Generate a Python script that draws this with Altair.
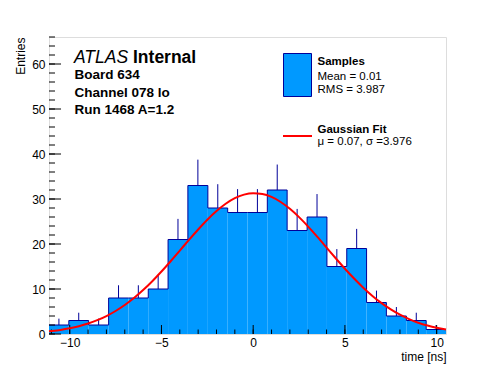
import altair as alt
import pandas as pd

FONT = "Liberation Sans"

# Histogram (20 bins)
bin_edges = [-11.13, -10.05, -8.97, -7.88, -6.80, -5.72, -4.64, -3.56, -2.47, -1.39,
             -0.31, 0.77, 1.85, 2.94, 4.02, 5.10, 6.18, 7.26, 8.35, 9.43, 10.51]
counts = [2, 3, 2, 8, 8, 10, 21, 33, 28, 27, 27, 32, 23, 26, 15, 19, 7, 4, 3, 1]

# Gaussian fit curve
fit_x = [-11.13, -11, -10.5, -10, -9.5, -9, -8.5, -8, -7.5, -7, -6.5, -6, -5.5, -5, -4.5, -4,
         -3.5, -3, -2.5, -2, -1.5, -1, -0.5, 0, 0.5, 1, 1.5, 2, 2.5, 3, 3.5, 4, 4.5, 5,
         5.5, 6, 6.5, 7, 7.5, 8, 8.5, 9, 9.5, 10, 10.51]
fit_y = [0.59, 0.65, 0.91, 1.27, 1.73, 2.32, 3.07, 3.99, 5.11, 6.44, 7.99, 9.76, 11.73, 13.88,
         16.17, 18.54, 20.92, 23.23, 25.40, 27.33, 28.95, 30.19, 30.98, 31.30, 31.12, 30.46,
         29.34, 27.82, 25.97, 23.86, 21.57, 19.21, 16.83, 14.51, 12.32, 10.29, 8.46, 6.85,
         5.46, 4.28, 3.31, 2.51, 1.88, 1.38, 1.00]

x_major = [-10, -5, 0, 5, 10]
x_minor = list(range(-11, 11))
y_major = [0, 10, 20, 30, 40, 50, 60]
y_minor = list(range(0, 67, 2))

X0, X1 = -11.13, 10.51
W, H = 397, 297
FILL = "#0099ff"
LINE = "#000099"

xs = alt.Scale(domain=[X0, X1], nice=False, zero=False)
ys = alt.Scale(domain=[0, 66], nice=False, zero=True)

hist = pd.DataFrame({
    "lo": bin_edges[:-1],
    "hi": bin_edges[1:],
    "n": counts,
})
hist["c"] = (hist["lo"] + hist["hi"]) / 2
step = pd.DataFrame({"e": bin_edges, "n": counts + [counts[-1]]})
fit = pd.DataFrame({"x": fit_x, "y": fit_y})

xaxis = alt.Axis(values=x_major, ticks=False, tickSize=0, domain=False, grid=False,
                 labelFont=FONT, labelFontSize=12, labelColor="black", labelPadding=3,
                 title="time [ns]", titleFont=FONT, titleFontSize=12, titleFontWeight="normal",
                 titleColor="black", titleX=W, titleY=26, titleAlign="right",
                 titleBaseline="alphabetic")
yaxis = alt.Axis(values=y_major, ticks=False, tickSize=0, domain=False, grid=False,
                 labelFont=FONT, labelFontSize=12, labelColor="black", labelPadding=4,
                 title="Entries", titleFont=FONT, titleFontSize=12, titleFontWeight="normal",
                 titleColor="black", titleAngle=270, titleX=-29, titleY=0,
                 titleAlign="right", titleBaseline="middle")

err = alt.Chart(hist).transform_calculate(
    lo_e="datum.n - sqrt(datum.n)", hi_e="datum.n + sqrt(datum.n)"
).mark_rule(color=LINE, strokeWidth=1).encode(
    x=alt.X("c:Q", scale=xs, axis=xaxis),
    y=alt.Y("lo_e:Q", scale=ys, axis=yaxis),
    y2="hi_e:Q",
)

bars = alt.Chart(hist).mark_rect(fill=FILL, strokeWidth=0).encode(
    x=alt.X("lo:Q", scale=xs),
    x2="hi:Q",
    y=alt.Y("n:Q", scale=ys),
    y2=alt.datum(0),
)

outline = alt.Chart(step).mark_line(color=LINE, strokeWidth=1, interpolate="step-after").encode(
    x=alt.X("e:Q", scale=xs),
    y=alt.Y("n:Q", scale=ys),
)

# tick lengths in data units: x ticks 9px / 4.5px tall, y ticks 12px / 6px long
xt_minor = alt.Chart(pd.DataFrame({"v": x_minor})).mark_rule(color="black").encode(
    x=alt.X("v:Q", scale=xs), y=alt.datum(0, scale=ys), y2=alt.datum(1))
xt_major = alt.Chart(pd.DataFrame({"v": x_major})).mark_rule(color="black").encode(
    x=alt.X("v:Q", scale=xs), y=alt.datum(0, scale=ys), y2=alt.datum(2))
yt_minor = alt.Chart(pd.DataFrame({"v": y_minor})).mark_rule(color="black").encode(
    y=alt.Y("v:Q", scale=ys), x=alt.datum(X0, scale=xs), x2=alt.datum(X0 + 0.327))
yt_major = alt.Chart(pd.DataFrame({"v": y_major})).mark_rule(color="black").encode(
    y=alt.Y("v:Q", scale=ys), x=alt.datum(X0, scale=xs), x2=alt.datum(X0 + 0.655))

curve = alt.Chart(fit).mark_line(color="#ff0000", strokeWidth=2, interpolate="monotone").encode(
    x=alt.X("x:Q", scale=xs),
    y=alt.Y("y:Q", scale=ys),
)


def label(txt, px, py, size=12, weight="normal", style="normal"):
    return alt.Chart(pd.DataFrame({"t": [txt]})).mark_text(
        align="left", baseline="alphabetic", font=FONT, fontSize=size,
        fontWeight=weight, fontStyle=style, color="black",
    ).encode(x=alt.value(px), y=alt.value(py), text="t:N")


one = pd.DataFrame({"a": [0]})
leg_box = alt.Chart(one).mark_rect(fill=FILL, stroke=LINE, strokeWidth=1).encode(
    x=alt.value(234.5), x2=alt.value(262.5), y=alt.value(16.5), y2=alt.value(59.5))
leg_line = alt.Chart(one).mark_rule(color="#ff0000", strokeWidth=2).encode(
    x=alt.value(234), x2=alt.value(263), y=alt.value(99))

texts = [
    label("ATLAS", 25, 25.7, size=17.5, style="italic"),
    label("Internal", 84, 25.7, size=17.5, weight="bold"),
    label("Board 634", 25.5, 42.3, size=13.5, weight="bold"),
    label("Channel 078 lo", 25.5, 59.7, size=13.5, weight="bold"),
    label("Run 1468 A=1.2", 25.5, 77, size=13.5, weight="bold"),
    label("Samples", 268.5, 28, size=11.5, weight="bold"),
    label("Mean = 0.01", 268.5, 43, size=11.5),
    label("RMS = 3.987", 268.5, 56.3, size=11.5),
    label("Gaussian Fit", 268.5, 95.7, size=11.5, weight="bold"),
    label("\u03bc = 0.07, \u03c3 =3.976", 268.5, 107.5, size=11.5),
]

chart = alt.layer(
    err, bars, outline, xt_minor, xt_major, yt_minor, yt_major, curve,
    leg_box, leg_line, *texts
).properties(
    width=W, height=H,
    autosize=alt.AutoSizeParams(type="none"),
    padding={"left": 41, "top": 29, "right": 30, "bottom": 30},
).configure_view(
    stroke="black", strokeWidth=1
).configure(background="white")

chart.save("out.html", embed_options={"renderer": "svg", "actions": False})
